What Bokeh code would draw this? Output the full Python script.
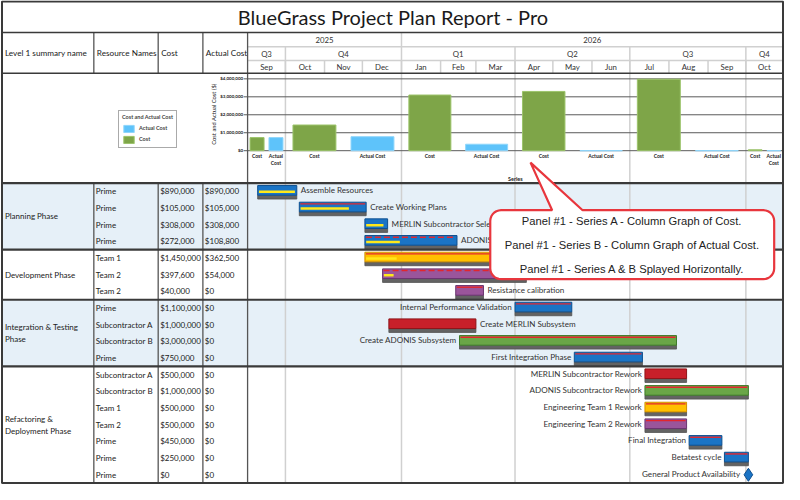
import numpy as np
import pandas as pd
from bokeh.plotting import figure
from bokeh.models import Range1d, Legend, LegendItem
from bokeh.core.properties import value
from bokeh.embed import file_html
from bokeh.resources import INLINE

# ---------------- data ----------------
TITLE = "BlueGrass Project Plan Report - Pro"
COLUMNS = ["Level 1 summary name", "Resource Names", "Cost", "Actual Cost"]

PHASES = ["Planning Phase", "Development Phase", "Integration & Testing\nPhase", "Refactoring &\nDeployment Phase"]
PHASE_ROWS = [4, 3, 4, 7]

TASKS = ["Assemble Resources", "Create Working Plans", "MERLIN Subcontractor Selection",
         "ADONIS Subcontractor Selection", "", "", "Resistance calibration",
         "Internal Performance Validation", "Create MERLIN Subsystem", "Create ADONIS Subsystem",
         "First Integration Phase", "MERLIN Subcontractor Rework", "ADONIS Subcontractor Rework",
         "Engineering Team 1 Rework", "Engineering Team 2 Rework", "Final Integration",
         "Betatest cycle", "General Product Availability"]
RESOURCES = ["Prime", "Prime", "Prime", "Prime", "Team 1", "Team 2", "Team 2",
             "Prime", "Subcontractor A", "Subcontractor B", "Prime",
             "Subcontractor A", "Subcontractor B", "Team 1", "Team 2", "Prime", "Prime", "Prime"]
COST = [890000, 105000, 308000, 272000, 1450000, 397600, 40000,
        1100000, 1000000, 3000000, 750000,
        500000, 1000000, 500000, 500000, 450000, 250000, 0]
ACTUAL_COST = [890000, 105000, 308000, 108800, 362500, 54000, 0,
               0, 0, 0, 0, 0, 0, 0, 0, 0, 0, 0]
START = ["2025-09-09", "2025-10-12", "2025-12-03", "2025-12-03", "2025-12-03", "2025-12-17", "2026-02-13",
         "2026-04-01", "2025-12-22", "2026-02-16", "2026-05-18",
         "2026-07-13", "2026-07-13", "2026-07-13", "2026-07-13", "2026-08-17", "2026-09-14", "2026-10-03"]
FINISH = ["2025-10-10", "2025-12-04", "2025-12-21", "2026-02-14", "2026-04-30", "2026-04-10", "2026-03-07",
          "2026-05-16", "2026-03-01", "2026-08-07", "2026-07-11",
          "2026-08-15", "2026-10-03", "2026-08-15", "2026-08-15", "2026-09-12", "2026-10-03", "2026-10-03"]
PCT_COMPLETE = [100, 77, 90, 40, 18, 9, 0, 0, 0, 0, 0, 0, 0, 0, 0, 0, 0, 0]
CRITICAL = ["", "solid", "", "dashed", "solid", "dashed", "solid",
            "solid", "", "solid", "solid", "", "solid", "solid", "solid", "solid", "solid", ""]
LABEL_SIDE = ["right", "right", "right", "right", "right", "right", "right",
              "left", "right", "left", "left", "left", "left", "left", "left", "left", "left", "left"]

YEAR_LABELS = ["2025", "2026"]
QUARTER_LABELS = ["Q3", "Q4", "Q1", "Q2", "Q3", "Q4"]
MONTH_LABELS = ["Sep", "Oct", "Nov", "Dec", "Jan", "Feb", "Mar", "Apr", "May", "Jun", "Jul", "Aug", "Sep", "Oct"]

CHART_QUARTERS = ["2025Q3", "2025Q4", "2026Q1", "2026Q2", "2026Q3", "2026Q4"]
CHART_COST = [730000, 1430000, 3100000, 3300000, 3980000, 50000]
CHART_ACTUAL = [730000, 780000, 360000, 0, 0, 0]
COST_TICKS = [0, 1000000, 2000000, 3000000, 4000000]

CALLOUT_LINES = ["Panel #1 - Series A - Column Graph of Cost.",
                 "Panel #1 - Series B - Column Graph of Actual Cost.",
                 "Panel #1 - Series A & B Splayed Horizontally."]

# ---------------- styles / layout ----------------
RES_FILL = {"Prime": "#1b74c5", "Subcontractor A": "#c8202a", "Subcontractor B": "#6aa647",
            "Team 1": "#ffc000", "Team 2": "#9a559b"}
RES_LINE = {"Prime": "#0e4f8f", "Subcontractor A": "#8e1419", "Subcontractor B": "#3f7a2a",
            "Team 1": "#d08f00", "Team 2": "#6b3570"}
GREEN, LBLUE = "#7ea548", "#5ec3fa"
SHADE = "#e6f0f8"
DARK, LIGHT = "#3a3a3a", "#d0d0d0"
FONT = value("Lato")

W, H = 784, 484
X_LEFT, X_RIGHT, Y_TOP, Y_BOTTOM = 0.5, 798.5, 0.0, 498.5
FL, FR, FT, FB = 2, 797, 1, 497
COL_X = [2, 95.5, 161, 206.5, 252]
TL_X0, PX_DAY = 252, 1.284
HDR_T, HDR_1, HDR_2, HDR_B = 33, 47.7, 61.7, 75
GANTT_T, ROW_H = 188, 17.17
ZERO_Y, PX_PER_DOLLAR = 154.7, 18.5 / 1e6

ORIGIN = pd.Timestamp("2025-09-01")
def day(s):
    return (pd.Timestamp(s) - ORIGIN) / pd.Timedelta(days=1)

VIS_END = (FR - TL_X0) / PX_DAY

p = figure(width=W, height=H, x_range=Range1d(X_LEFT, X_RIGHT), y_range=Range1d(Y_BOTTOM, Y_TOP),
           x_axis_type=None, y_axis_type=None, output_backend="svg", toolbar_location=None,
           min_border=0, outline_line_color=None, background_fill_color="white",
           border_fill_color="white")
p.extra_x_ranges = {"time": Range1d((X_LEFT - TL_X0) / PX_DAY, (X_RIGHT - TL_X0) / PX_DAY)}
p.extra_y_ranges = {"rows": Range1d((Y_BOTTOM - GANTT_T) / ROW_H, (Y_TOP - GANTT_T) / ROW_H),
                    "cost": Range1d((ZERO_Y - Y_BOTTOM) / PX_PER_DOLLAR, (ZERO_Y - Y_TOP) / PX_PER_DOLLAR)}

# ---- title
p.text(x=[400], y=[17], text=[TITLE], text_font=FONT, text_font_size="20px",
       text_color="#1a1a1a", text_align="center", text_baseline="middle")

# ---- phase shading
phase_start = np.cumsum([0] + PHASE_ROWS[:-1])
phase_end = phase_start + np.array(PHASE_ROWS)
shaded = [i for i in range(len(PHASES)) if i % 2 == 0]
p.quad(left=FL, right=FR, top=[phase_start[i] for i in shaded], bottom=[phase_end[i] for i in shaded],
       y_range_name="rows", fill_color=SHADE, line_color=None)

# ---- time grid (quarters / months)
month_starts = pd.date_range("2025-09-01", periods=len(MONTH_LABELS), freq="MS")
m_lo = np.array([day(m) for m in month_starts])
m_hi = np.minimum(np.append(m_lo[1:], day(month_starts[-1] + pd.offsets.MonthBegin(1))), VIS_END)
q_periods = [pd.Period(q, freq="Q") for q in CHART_QUARTERS]
q_lo = np.array([max(day(q.start_time), 0) for q in q_periods])
q_hi = np.array([min(day(q.end_time.normalize()) + 1, VIS_END) for q in q_periods])
y_lo = np.array([max(day(f"{y}-01-01"), 0) for y in YEAR_LABELS])
y_hi = np.array([min(day(f"{int(y) + 1}-01-01"), VIS_END) for y in YEAR_LABELS])

p.segment(x0=q_lo[1:], x1=q_lo[1:], y0=HDR_1, y1=FB, x_range_name="time", line_color=LIGHT, line_width=1.5)
p.segment(x0=m_lo[1:], x1=m_lo[1:], y0=HDR_2, y1=HDR_B, x_range_name="time", line_color=LIGHT, line_width=1.5)
p.segment(x0=y_lo[1:], x1=y_lo[1:], y0=HDR_T, y1=HDR_1, x_range_name="time", line_color=LIGHT, line_width=1.5)
p.segment(x0=TL_X0, x1=FR, y0=[HDR_1, HDR_2], y1=[HDR_1, HDR_2], line_color=LIGHT, line_width=1.5)

hdr_kw = dict(x_range_name="time", text_font=FONT, text_font_size="7.8px", text_color="#333333",
              text_align="center", text_baseline="middle")
p.text(x=(y_lo + y_hi) / 2, y=(HDR_T + HDR_1) / 2, text=YEAR_LABELS, **hdr_kw)
p.text(x=(q_lo + q_hi) / 2, y=(HDR_1 + HDR_2) / 2, text=QUARTER_LABELS, **hdr_kw)
p.text(x=(m_lo + m_hi) / 2, y=(HDR_2 + HDR_B) / 2 + 0.5, text=MONTH_LABELS, **hdr_kw)

# ---- table header
p.text(x=[c + 3 for c in COL_X[:4]], y=(HDR_T + HDR_B) / 2, text=COLUMNS, text_font=FONT,
       text_font_size="8.2px", text_color="#1a1a1a", text_baseline="middle")

# ---- column chart: cost / actual cost splayed horizontally
half = (q_hi - q_lo) / 2
cx_cost = q_lo + half / 2
cx_act = q_lo + 1.5 * half
bw = 0.74 * half
p.segment(x0=TL_X0, x1=FR, y0=COST_TICKS, y1=COST_TICKS, y_range_name="cost", line_color="#5a5a5a", line_width=1)
p.segment(x0=TL_X0 - 4, x1=TL_X0, y0=COST_TICKS, y1=COST_TICKS, y_range_name="cost", line_color="#5a5a5a")
r_cost = p.quad(left=cx_cost - bw / 2, right=cx_cost + bw / 2, bottom=0, top=CHART_COST,
                x_range_name="time", y_range_name="cost", fill_color=GREEN, line_color="#9cc46a")
r_act = p.quad(left=cx_act - bw / 2, right=cx_act + bw / 2, bottom=0, top=CHART_ACTUAL,
               x_range_name="time", y_range_name="cost", fill_color=LBLUE, line_color="#8fd6fb")
p.text(x=[TL_X0 - 4.5] * len(COST_TICKS), y=COST_TICKS, text=[f"${v:,.0f}" for v in COST_TICKS],
       y_range_name="cost", text_font=FONT, text_font_size="4.5px", text_font_style="bold",
       text_color="#222222", text_align="right", text_baseline="middle")
narrow = half * PX_DAY < 30
cat_x = np.concatenate([cx_cost, cx_act])
cat_t = ["Cost"] * len(cx_cost) + ["Actual\nCost" if n else "Actual Cost" for n in narrow]
p.text(x=cat_x, y=157, text=cat_t, x_range_name="time", text_font=FONT, text_font_size="5px",
       text_font_style="bold", text_color="#222222", text_align="center", text_baseline="top",
       text_line_height=1.15)
p.text(x=[(TL_X0 + FR) / 2], y=[184], text=["Series"], text_font=FONT, text_font_size="5.5px",
       text_font_style="bold", text_color="#222222", text_align="center", text_baseline="middle")
p.text(x=[217.5], y=[117], text=["Cost and Actual Cost ($)"], angle=np.pi / 2, text_font=FONT,
       text_font_size="5.8px", text_color="#222222", text_align="center", text_baseline="middle")

legend = Legend(items=[LegendItem(label="Actual Cost", renderers=[r_act]),
                       LegendItem(label="Cost", renderers=[r_cost])],
                location=(118, 336), title="Cost and Actual Cost", title_text_font_size="5.5px",
                title_text_font_style="bold", title_text_font="Lato", title_standoff=3,
                label_text_font_size="5.5px", label_text_font_style="bold", label_text_font="Lato",
                label_height=10, glyph_height=9, glyph_width=13, spacing=1, padding=3, margin=0,
                label_standoff=4, border_line_color="#555555", border_line_width=1,
                background_fill_alpha=1)
p.add_layout(legend)

# ---- table body
row_idx = np.arange(len(TASKS))
body_kw = dict(y_range_name="rows", text_font=FONT, text_font_size="8px", text_color="#222222",
               text_baseline="middle")
p.text(x=5, y=(phase_start + phase_end) / 2, text=PHASES, text_line_height=1.2, **body_kw)
p.text(x=COL_X[1] + 2, y=row_idx + 0.5, text=RESOURCES, **body_kw)
p.text(x=COL_X[2] + 2, y=row_idx + 0.5, text=[f"${v:,.0f}" for v in COST], **body_kw)
p.text(x=COL_X[3] + 2, y=row_idx + 0.5, text=[f"${v:,.0f}" for v in ACTUAL_COST], **body_kw)

# ---- gantt bars
s = np.array([day(d) for d in START])
f = np.array([day(d) for d in FINISH])
is_bar = f > s
bi = row_idx[is_bar]
fills = [RES_FILL[RESOURCES[i]] for i in bi]
lines = [RES_LINE[RESOURCES[i]] for i in bi]
p.quad(left=s[is_bar], right=f[is_bar], top=bi + 0.728, bottom=bi + 0.961, x_range_name="time",
       y_range_name="rows", fill_color="#636363", line_color="#505050", line_width=0.8)
p.quad(left=s[is_bar], right=f[is_bar], top=bi + 0.15, bottom=bi + 0.728, x_range_name="time",
       y_range_name="rows", fill_color=fills, line_color=lines, line_width=1)
pct = np.array(PCT_COMPLETE) / 100
pi_ = row_idx[pct > 0]
p.segment(x0=s[pi_] + 1, x1=s[pi_] + pct[pi_] * (f[pi_] - s[pi_]) - 1.5, y0=pi_ + 0.53, y1=pi_ + 0.53,
          x_range_name="time", y_range_name="rows", line_color="#ffe81a", line_width=2.5)
for style, dash in (("solid", "solid"), ("dashed", "6 3")):
    ci = np.array([i for i in row_idx if CRITICAL[i] == style])
    p.segment(x0=s[ci] + 0.8, x1=f[ci] - 0.8, y0=ci + 0.25, y1=ci + 0.25, x_range_name="time",
              y_range_name="rows", line_color="#e3262d", line_width=1.4, line_dash=dash)
ms = row_idx[~is_bar]
p.scatter(x=s[ms], y=ms + 0.5, marker="diamond", size=13, x_range_name="time", y_range_name="rows",
          fill_color="#1b74c5", line_color="#0e4f8f", line_width=1)

lab_kw = dict(x_range_name="time", y_range_name="rows", text_font=FONT, text_font_size="8.1px",
              text_color="#333333", text_baseline="middle")
ri = np.array([i for i in row_idx if LABEL_SIDE[i] == "right" and TASKS[i]])
li = np.array([i for i in row_idx if LABEL_SIDE[i] == "left" and TASKS[i]])
p.text(x=f[ri], y=ri + 0.44, text=[TASKS[i] for i in ri], x_offset=4, text_align="left", **lab_kw)
p.text(x=s[li], y=li + 0.44, text=[TASKS[i] for i in li],
       x_offset=[-8 if not is_bar[i] else -3 for i in li], text_align="right", **lab_kw)

# ---- table / frame lines
p.segment(x0=COL_X[1:4], x1=COL_X[1:4], y0=HDR_T, y1=HDR_B, line_color="#555555", line_width=1.3)
p.segment(x0=COL_X[1:4], x1=COL_X[1:4], y0=GANTT_T, y1=FB, line_color="#555555", line_width=1.3)
p.segment(x0=[COL_X[4]], x1=[COL_X[4]], y0=HDR_T, y1=FB, line_color="#555555", line_width=1.3)
p.segment(x0=FL, x1=FR, y0=[HDR_T, HDR_B], y1=[HDR_T, HDR_B], line_color=DARK, line_width=1.6)
p.segment(x0=FL, x1=FR, y0=phase_start, y1=phase_start, y_range_name="rows", line_color=DARK, line_width=2.2)
p.quad(left=[FL], right=[FR], top=[FT], bottom=[FB], fill_color=None, line_color=DARK, line_width=2)

# ---- callout
def callout_path(x0, y0, x1, y1, r, b0, b1, tx, ty):
    xs, ys = [x0 + r, b0, tx, b1, x1 - r], [y0, y0, ty, y0, y0]
    for cxy, a0 in (((x1 - r, y0 + r), -90), ((x1 - r, y1 - r), 0), ((x0 + r, y1 - r), 90), ((x0 + r, y0 + r), 180)):
        for a in np.radians(np.linspace(a0, a0 + 90, 8)):
            xs.append(cxy[0] + r * np.cos(a))
            ys.append(cxy[1] + r * np.sin(a))
    return xs, ys

cxs, cys = callout_path(499, 216, 788, 287, 11, 562, 593, 540, 167)
p.patch(x=cxs, y=cys, fill_color="white", line_color="#e8363d", line_width=2.2)
p.text(x=[643.5] * 3, y=[227, 252, 277], text=CALLOUT_LINES, text_font=value("Liberation Sans"),
       text_font_size="11.2px", text_color="#222222", text_align="center", text_baseline="middle")

open("out.html", "w").write(file_html(p, INLINE))
